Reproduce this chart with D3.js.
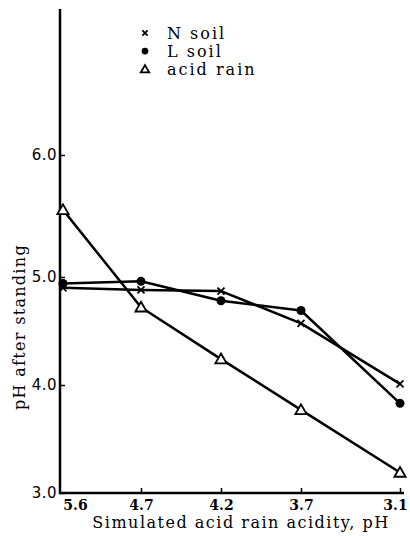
<!DOCTYPE html>
<html>
<head>
<meta charset="utf-8">
<script src="https://cdn.jsdelivr.net/npm/d3@7"></script>
<style>
  body { margin: 0; background: #fff; }
  svg { display: block; }
</style>
</head>
<body>
<svg id="chart" width="410" height="536"></svg>
<script>
var WIDTH = 410;
var HEIGHT = 536;

// simulated acid rain pH (columns, read left to right)
var categories = ['5.6', '4.7', '4.2', '3.7', '3.1'];
// pH after standing
var nSoil = [4.90, 4.88, 4.87, 4.57, 4.01];
var lSoil = [4.94, 4.96, 4.78, 4.69, 3.83];
var acidRain = [5.55, 4.72, 4.24, 3.77, 3.19];
var yTicks = [3.0, 4.0, 5.0, 6.0];
var seriesNames = ['N soil', 'L soil', 'acid rain'];

var AXIS_X = 60;
var AXIS_Y = 493;
var AXIS_RIGHT = 404;
var AXIS_TOP = 9;

var svg = d3.select('#chart');

// the hand-drawn axes are not evenly spaced, so both scales are piecewise
var xScale = d3.scaleLinear()
  .domain(d3.range(categories.length))
  .range([63, 141, 221, 301, 400]);

var yScale = d3.scaleLinear()
  .domain([3, 4, 5, 6, 7.2])
  .range([AXIS_Y, 385, 277, 155, AXIS_TOP]);

// axes
var yAxis = d3.axisLeft(yScale)
  .tickValues(yTicks)
  .tickSizeInner(-5)
  .tickSizeOuter(0)
  .tickPadding(3)
  .tickFormat(d3.format('.1f'));

var yAxisGroup = svg.append('g')
  .attr('class', 'axis axis-y')
  .attr('transform', 'translate(' + AXIS_X + ', 0)')
  .call(yAxis);

yAxisGroup.select('.domain').remove();
yAxisGroup.selectAll('line').attr('stroke', '#000').attr('stroke-width', 1.5);
yAxisGroup.selectAll('text')
  .attr('font-family', '"DejaVu Sans", sans-serif')
  .attr('font-size', 15)
  .attr('letter-spacing', 0.5)
  .attr('fill', '#000');

var xAxis = d3.axisBottom(xScale)
  .tickValues(d3.range(categories.length))
  .tickSizeInner(-5)
  .tickSizeOuter(0)
  .tickPadding(4)
  .tickFormat(i => categories[i]);

var xAxisGroup = svg.append('g')
  .attr('class', 'axis axis-x')
  .attr('transform', 'translate(0, ' + AXIS_Y + ')')
  .call(xAxis);

xAxisGroup.select('.domain').remove();
xAxisGroup.selectAll('line')
  .attr('stroke', '#000')
  .attr('stroke-width', 1.5)
  .attr('opacity', (d, i) => i === 0 ? 0 : 1);
xAxisGroup.selectAll('text')
  .attr('font-family', '"DejaVu Serif", serif')
  .attr('font-weight', 'bold')
  .attr('font-size', 14)
  .attr('fill', '#000')
  .attr('dx', (d, i) => i === 0 ? 12 : (i === categories.length - 1 ? -5 : 0))
  .attr('dy', '0.9em');

svg.append('path')
  .attr('d', 'M' + AXIS_X + ',' + AXIS_TOP + 'V' + AXIS_Y + 'H' + AXIS_RIGHT)
  .attr('fill', 'none')
  .attr('stroke', '#000')
  .attr('stroke-width', 2.5);

// axis titles
svg.append('text')
  .attr('x', 241)
  .attr('y', 528)
  .attr('text-anchor', 'middle')
  .attr('font-family', '"DejaVu Serif", serif')
  .attr('font-size', 16)
  .attr('letter-spacing', 1.5)
  .attr('fill', '#000')
  .text('Simulated acid rain acidity, pH');

svg.append('text')
  .attr('transform', 'translate(25, 327) rotate(-90)')
  .attr('text-anchor', 'middle')
  .attr('font-family', '"DejaVu Serif", serif')
  .attr('font-size', 16)
  .attr('letter-spacing', 1.3)
  .attr('fill', '#000')
  .text('pH after standing');

// lines
var line = d3.line()
  .x((d, i) => xScale(i))
  .y(d => yScale(d));

var series = [
  {name: seriesNames[0], values: nSoil, symbol: 'cross'},
  {name: seriesNames[1], values: lSoil, symbol: 'dot'},
  {name: seriesNames[2], values: acidRain, symbol: 'triangle'}
];

var linesGroup = svg.append('g').attr('class', 'lines');
series.forEach(s => {
  linesGroup.append('path')
    .attr('d', line(s.values))
    .attr('fill', 'none')
    .attr('stroke', '#000')
    .attr('stroke-width', 2.5)
    .attr('stroke-linejoin', 'round');
});

function drawSymbol(g, kind, x, y, scale) {
  scale = scale || 1;
  if (kind === 'cross') {
    var r = 3.5 * scale;
    g.append('path')
      .attr('d', 'M' + (x - r) + ',' + (y - r) + 'L' + (x + r) + ',' + (y + r) +
                 'M' + (x - r) + ',' + (y + r) + 'L' + (x + r) + ',' + (y - r))
      .attr('stroke', '#000')
      .attr('stroke-width', 1.8);
  } else if (kind === 'dot') {
    g.append('circle')
      .attr('cx', x)
      .attr('cy', y)
      .attr('r', 4.5 * scale)
      .attr('fill', '#000');
  } else {
    g.append('path')
      .attr('d', d3.symbol().type(d3.symbolTriangle).size(55 * scale * scale)())
      .attr('transform', 'translate(' + x + ',' + (y + 1) + ')')
      .attr('fill', '#fff')
      .attr('stroke', '#000')
      .attr('stroke-width', 1.8);
  }
}

var marksGroup = svg.append('g').attr('class', 'marks');
series.forEach(s => {
  s.values.forEach((v, i) => drawSymbol(marksGroup, s.symbol, xScale(i), yScale(v)));
});

// legend
var legend = svg.append('g').attr('class', 'legend');
series.forEach((s, i) => {
  var ly = 33 + i * 18;
  drawSymbol(legend, s.symbol, 145, ly, 0.75);
  legend.append('text')
    .attr('x', 167)
    .attr('y', ly)
    .attr('dy', '0.35em')
    .attr('font-family', '"DejaVu Serif", serif')
    .attr('font-size', 16)
    .attr('letter-spacing', 2)
    .attr('fill', '#000')
    .text(s.name);
});
</script>
</body>
</html>
